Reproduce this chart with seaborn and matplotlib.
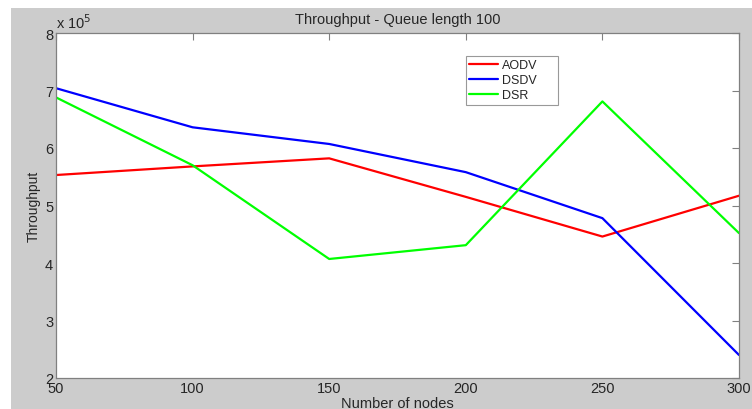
import matplotlib
matplotlib.use("Agg")
import matplotlib.pyplot as plt
from matplotlib.patches import Rectangle
from matplotlib.ticker import FuncFormatter
import pandas as pd
import seaborn as sns

nodes = [50, 100, 150, 200, 250, 300]
aodv = [553000, 568000, 582000, 515000, 446000, 517000]
dsdv = [704000, 636000, 607000, 558000, 478000, 240000]
dsr = [688000, 570000, 407000, 431000, 681000, 452000]
protocols = ["AODV", "DSDV", "DSR"]
colors = ["#ff0000", "#0000ff", "#00ff00"]

df = pd.DataFrame({
    "nodes": nodes * 3,
    "throughput": aodv + dsdv + dsr,
    "protocol": [p for p in protocols for _ in nodes],
})

sns.set_style("white")
plt.rcParams["font.family"] = ["Liberation Sans", "DejaVu Sans"]

fig = plt.figure(figsize=(7.52, 4.10), dpi=100)
fig.patch.set_facecolor("white")
# grey MATLAB-style figure panel
fig.add_artist(Rectangle((11 / 752, 0), 1, 401 / 410, transform=fig.transFigure,
                         facecolor="#cccccc", edgecolor="none", zorder=0))

ax = fig.add_axes([56 / 752, 1 - 379 / 410, (739 - 56) / 752, (379 - 34) / 410])
ax.set_facecolor("white")
sns.lineplot(data=df, x="nodes", y="throughput", hue="protocol", palette=colors,
             linewidth=1.6, ax=ax)

ax.set_xlim(50, 300)
ax.set_ylim(200000, 800000)
ax.set_xticks(nodes)
ax.set_yticks([200000, 300000, 400000, 500000, 600000, 700000, 800000])
ax.yaxis.set_major_formatter(FuncFormatter(lambda v, _: f"{v / 1e5:g}"))
ax.tick_params(direction="in", length=5, width=0.8, color="#808080", labelsize=10.5,
               top=True, right=True, pad=2)
for s in ax.spines.values():
    s.set_color("#808080")
    s.set_linewidth(0.9)

ax.set_title("Throughput - Queue length 100", fontsize=10.5, pad=7)
ax.set_xlabel("Number of nodes", fontsize=10.5, labelpad=1)
ax.set_ylabel("Throughput", fontsize=10, labelpad=3)
ax.text(0, 1.005, "x 10$^5$", transform=ax.transAxes, fontsize=10.5, ha="left", va="bottom")

leg = ax.legend(loc="upper left",
                bbox_to_anchor=((466 - 56) / 683, 1 - (102 - 34) / 345, 92 / 683, 45 / 345),
                mode="expand", fontsize=9, frameon=True, fancybox=False, handlelength=2.3,
                borderpad=0.25, labelspacing=0.25, handletextpad=0.3, borderaxespad=0)
leg.get_frame().set_edgecolor("#808080")
leg.get_frame().set_linewidth(0.8)

fig.savefig("out.png", dpi=100)
